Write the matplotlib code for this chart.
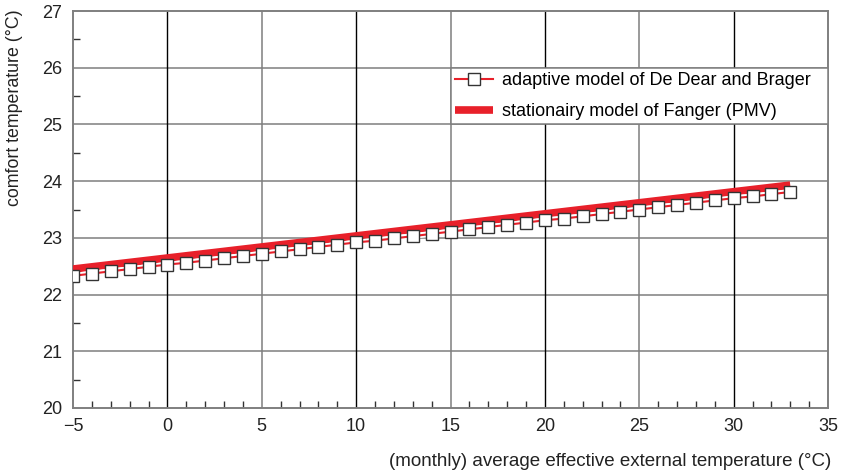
import matplotlib
matplotlib.use("Agg")
import matplotlib.pyplot as plt
from matplotlib.lines import Line2D
from matplotlib.patches import Rectangle
from matplotlib.ticker import MultipleLocator

plt.rcParams['font.family'] = ['Liberation Sans', 'DejaVu Sans']

ext_temp = list(range(-5, 34))
adaptive = [22.33, 22.37, 22.41, 22.45, 22.49, 22.53, 22.56, 22.60, 22.64, 22.68,
            22.72, 22.76, 22.80, 22.84, 22.88, 22.92, 22.95, 22.99, 23.03, 23.07,
            23.11, 23.15, 23.19, 23.23, 23.27, 23.31, 23.34, 23.38, 23.42, 23.46,
            23.50, 23.54, 23.58, 23.62, 23.66, 23.70, 23.73, 23.77, 23.81]
pmv_x = [-5, 33]
pmv = [22.45, 23.93]

xticks = [-5, 0, 5, 10, 15, 20, 25, 30, 35]
yticks = [20, 21, 22, 23, 24, 25, 26, 27]

red = '#e8202a'
grey = '#7f7f7f'

fig = plt.figure(figsize=(8.43, 4.74), dpi=100)
ax = fig.add_axes([73/843, 1 - 408/474, 755/843, 397/474])
ax.set_xlim(-5, 35)
ax.set_ylim(20, 27)

# grid
for y in yticks[1:-1]:
    ax.axhline(y, color=grey, lw=1.1, zorder=1)
for x in xticks[1:-1]:
    ax.axvline(x, color='black' if x % 10 == 0 else grey, lw=1.0 if x % 10 == 0 else 1.1, zorder=1)

ax.plot(pmv_x, pmv, color=red, lw=5.5, solid_capstyle='butt', zorder=3)
ax.plot(ext_temp, adaptive, color='white', lw=4.0, solid_capstyle='butt', zorder=3.5)
ax.plot(ext_temp, adaptive, color=red, lw=1.5, solid_capstyle='butt', zorder=3.6)
ax.plot(ext_temp, adaptive, ls='none', marker='s', ms=8,
        mfc='white', mec='#333333', mew=1.0, zorder=4)

ax.set_xticks(xticks)
ax.set_yticks(yticks)
ax.set_xticklabels(['\u22125' if v == -5 else str(v) for v in xticks])
ax.xaxis.set_minor_locator(MultipleLocator(1))
ax.yaxis.set_minor_locator(MultipleLocator(0.5))
ax.tick_params(which='major', length=0, labelsize=13, colors='#222222', pad=8)
ax.tick_params(which='minor', direction='in', length=5, width=1, color='#333333')
ax.tick_params(axis='x', which='major', pad=7)
for s in ax.spines.values():
    s.set_color(grey)
    s.set_linewidth(1.4)

fig.text(15/843, 1 - 108/474, 'comfort temperature (°C)', rotation=90,
         ha='center', va='center', fontsize=12.8, color='#222222')
fig.text(610/843, 1 - 461/474, '(monthly) average effective external temperature (°C)',
         ha='center', va='center', fontsize=13.5, color='#222222')

# legend box covering one grid cell
ax.add_patch(Rectangle((15, 25), 20, 1, facecolor='white', edgecolor=grey,
                       lw=1.1, zorder=4.5))
h_adapt = Line2D([], [], color=red, lw=1.5, marker='s', ms=8, mfc='white',
                 mec='#333333', mew=1.0)
h_pmv = Line2D([], [], color=red, lw=5.5, solid_capstyle='butt')
leg = ax.legend([h_adapt, h_pmv],
                ['adaptive model of De Dear and Brager', 'stationairy model of Fanger (PMV)'],
                loc='center left', bbox_to_anchor=((455 - 73) / 755, 5.5 / 7),
                fontsize=13, frameon=False, handlelength=2.1, handletextpad=0.5,
                borderaxespad=0, labelspacing=0.75, borderpad=0)
leg.set_zorder(5)

fig.savefig('out.png', dpi=100)
